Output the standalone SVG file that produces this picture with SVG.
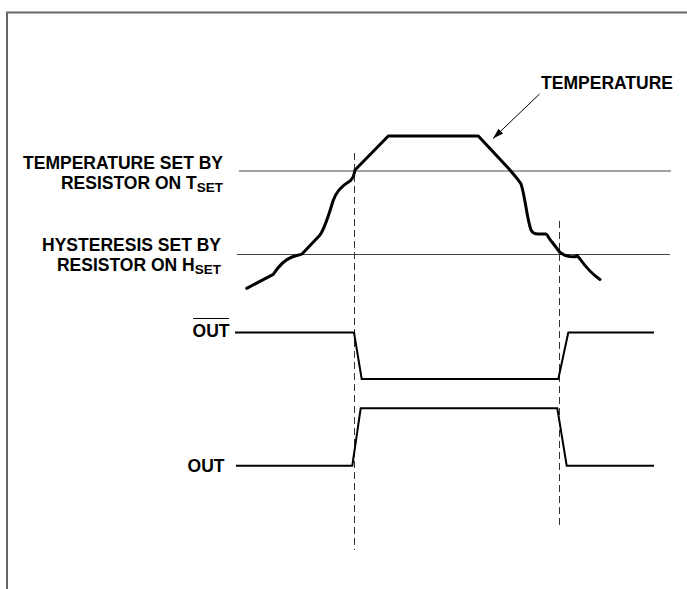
<svg xmlns="http://www.w3.org/2000/svg" width="687" height="589" viewBox="0 0 687 589">
<style>
.lbl{font-family:"Liberation Sans",Arial,sans-serif;font-weight:bold;font-size:17.5px;fill:#000}
.sub{font-size:13.5px}
.thr{stroke:#444;stroke-width:1;fill:none}
.dash{stroke:#333;stroke-width:1;stroke-dasharray:7,4;fill:none}
.sig{stroke:#000;stroke-width:2;fill:none;stroke-linejoin:miter}
.temp{stroke:#000;stroke-width:3;fill:none;stroke-linejoin:round;stroke-linecap:round}
</style>
<defs>
<marker id="ah" viewBox="0 0 10 6" refX="10" refY="3" markerWidth="11" markerHeight="6.5" markerUnits="userSpaceOnUse" orient="auto">
<path d="M0,0 L10,3 L0,6 Z" fill="#000"/>
</marker>
</defs>
<rect width="687" height="589" fill="#fff"/>
<path d="M7,589 L7,12.5 L687,12.5" stroke="#666" stroke-width="2" fill="none"/>

<g id="tset-label">
<text class="lbl" x="223" y="169" text-anchor="end">TEMPERATURE SET BY</text>
<text class="lbl" x="223" y="189" text-anchor="end">RESISTOR ON T<tspan class="sub" dy="3">SET</tspan></text>
</g>
<g id="hset-label">
<text class="lbl" x="221" y="250.5" text-anchor="end">HYSTERESIS SET BY</text>
<text class="lbl" x="221" y="270.5" text-anchor="end">RESISTOR ON H<tspan class="sub" dy="3">SET</tspan></text>
</g>
<g id="temp-label">
<text class="lbl" x="673" y="89" text-anchor="end">TEMPERATURE</text>
</g>
<g id="outbar-label">
<text class="lbl" x="229.5" y="336.5" text-anchor="end">OUT</text>
<line x1="193" y1="318.5" x2="229" y2="318.5" stroke="#000" stroke-width="1"/>
</g>
<g id="out-label">
<text class="lbl" x="224.5" y="472.3" text-anchor="end">OUT</text>
</g>

<g id="connectors">
<line class="thr" x1="239" y1="171" x2="671" y2="171"/>
<line class="thr" x1="237" y1="254.5" x2="670" y2="254.5"/>
<line class="dash" x1="354.5" y1="153" x2="354.5" y2="550"/>
<line class="dash" x1="559.5" y1="221" x2="559.5" y2="528"/>
<line x1="539.5" y1="94" x2="493" y2="138.5" stroke="#000" stroke-width="1" marker-end="url(#ah)"/>
<path class="temp" d="M246.7,288.3 L273.3,274.3 C278,267 284,260 292,257 C297,255 300,255 302,254 L320,235 C325,228 329,214 333,201 C336,192 343,185 350,181 C354,178 354,174 355,170 L388.3,136 L478.3,136 L510,170 C514,175 518,179 521,184 C525,195 527,220 531,230 C533,234 536,234 538,234 L546,234 C548,235 549,239 552,242 L560,252.5 C563,255 566,256 570,256.5 L575,256.8 L577,255.5 L580,259 C585,266 592,274 600,279.5"/>
<polyline class="sig" points="235,332.5 354,332.5 361.7,379 558.3,379 568.3,332.5 654,332.5"/>
<polyline class="sig" points="236,465.7 352.3,465.7 360.7,408.3 557.3,408.3 566.7,465.7 654,465.7"/>
</g>
</svg>
